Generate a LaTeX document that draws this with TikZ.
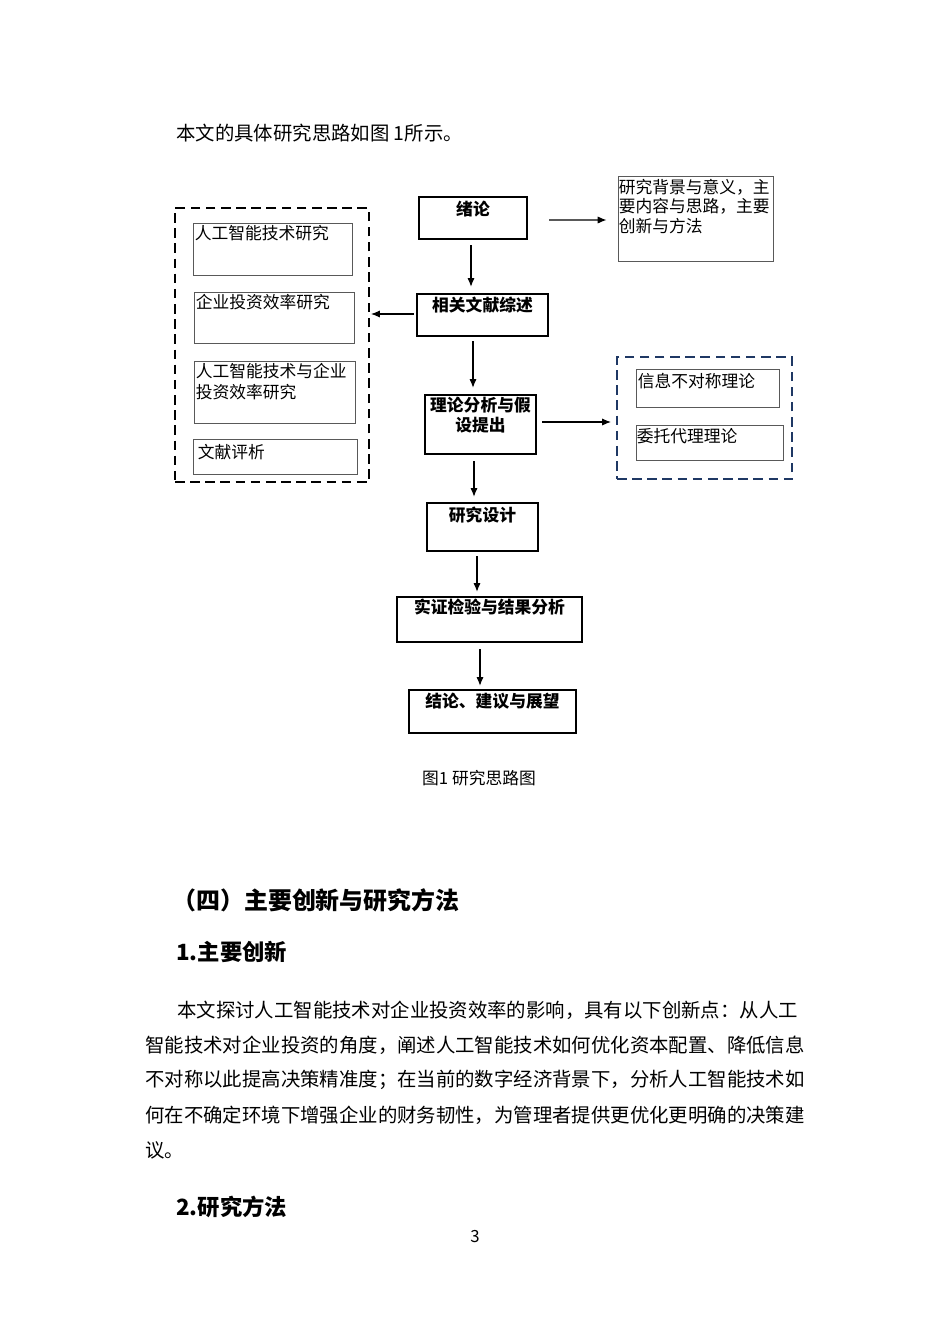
\documentclass[tikz,border=0pt]{standalone}
\usepackage{fontspec}
\setmainfont{Noto Sans CJK SC}
\usepackage{xcolor}
\usepackage{tikz}
\usetikzlibrary{shapes, arrows, arrows.meta, positioning, calc}
\definecolor{navy}{RGB}{31,56,100}
\newdimen\pxunit \pxunit=0.6266pt
\tikzstyle{flow} = [rectangle, draw, line width=1.5pt]
\tikzstyle{flowtext} = [font=\bfseries\fontsize{10.5}{12.5}\selectfont, align=center, inner sep=0pt]
\tikzstyle{sub} = [rectangle, draw=black!65, line width=0.6pt]
\tikzstyle{subtext} = [font=\fontsize{10.5}{13.2}\selectfont, align=left, inner sep=0pt]
\tikzstyle{frame} = [rectangle, draw, line width=1.3pt, dash pattern=on 6pt off 3.5pt]
\tikzstyle{arrow} = [draw, -{Latex[length=5.5pt, width=4.5pt]}, line width=0.7pt]
\tikzstyle{body} = [font=\fontsize{12.15}{14}\selectfont, inner sep=0pt, anchor=west]
\tikzstyle{head} = [font=\bfseries\fontsize{15}{18}\selectfont, inner sep=0pt, anchor=west]
\tikzstyle{subhead} = [font=\bfseries\fontsize{14}{17}\selectfont, inner sep=0pt, anchor=west]

\begin{document}
\begin{tikzpicture}[x=\pxunit, y=-\pxunit]
    \useasboundingbox (0,0) rectangle (950,1344);
    \fill [white] (0,0) rectangle (950,1344);

    \node (lead) [body] at (176,133) {本文的具体研究思路如图 1所示。};

    % main flow
    \node (intro) [flow, minimum width=108\pxunit, minimum height=42\pxunit] at (473,218) {};
    \node (review) [flow, minimum width=131\pxunit, minimum height=42\pxunit] at (482.5,315) {};
    \node (theory) [flow, minimum width=111\pxunit, minimum height=59\pxunit] at (480.5,424.5) {};
    \node (design) [flow, minimum width=111\pxunit, minimum height=48\pxunit] at (482.5,527) {};
    \node (test) [flow, minimum width=185\pxunit, minimum height=45\pxunit] at (489.5,619.5) {};
    \node (concl) [flow, minimum width=167\pxunit, minimum height=43\pxunit] at (492.5,711.5) {};

    \node (introtext) [flowtext, below=5\pxunit of intro.north] {绪论};
    \node (reviewtext) [flowtext, below=4\pxunit of review.north] {相关文献综述};
    \node (theorytext) [flowtext, below=3\pxunit of theory.north] {理论分析与假\\设提出};
    \node (designtext) [flowtext, below=5\pxunit of design.north] {研究设计};
    \node (testtext) [flowtext, below=3\pxunit of test.north] {实证检验与结果分析};
    \node (concltext) [flowtext, below=4\pxunit of concl.north] {结论、建议与展望};

    % side boxes
    \node (bground) [sub, minimum width=155\pxunit, minimum height=85\pxunit] at (695.5,218.5) {};
    \node (bgroundtext) [subtext, font=\fontsize{10.5}{12.3}\selectfont, below right=3\pxunit and 1\pxunit of bground.north west] {研究背景与意义，主\\要内容与思路，主要\\创新与方法};

    \node (lframe) [frame, minimum width=194\pxunit, minimum height=274\pxunit] at (272,345) {};
    \node (ai) [sub, minimum width=159\pxunit, minimum height=52\pxunit] at (272.5,249) {};
    \node (inv) [sub, minimum width=160\pxunit, minimum height=51\pxunit] at (274,317.5) {};
    \node (aiinv) [sub, minimum width=161\pxunit, minimum height=62\pxunit] at (274.5,392) {};
    \node (comment) [sub, minimum width=164\pxunit, minimum height=35\pxunit] at (275,456.5) {};
    \node (aitext) [subtext, below right=2\pxunit and 2\pxunit of ai.north west] {人工智能技术研究};
    \node (invtext) [subtext, below right=2\pxunit and 2\pxunit of inv.north west] {企业投资效率研究};
    \node (aiinvtext) [subtext, below right=2\pxunit and 2\pxunit of aiinv.north west] {人工智能技术与企业\\投资效率研究};
    \node (commenttext) [subtext, below right=5\pxunit and 5\pxunit of comment.north west] {文献评析};

    \node (rframe) [frame, draw=navy, minimum width=175\pxunit, minimum height=122\pxunit] at (704.5,418) {};
    \node (asym) [sub, minimum width=143\pxunit, minimum height=38\pxunit] at (707.5,388) {};
    \node (agency) [sub, minimum width=147\pxunit, minimum height=35\pxunit] at (709.5,442.5) {};
    \node (asymtext) [subtext, below right=4\pxunit and 2\pxunit of asym.north west] {信息不对称理论};
    \node (agencytext) [subtext, below right=4\pxunit and 1\pxunit of agency.north west] {委托代理理论};

    % connectors
    \draw [arrow, shorten <=5\pxunit, shorten >=6\pxunit] ([xshift=-2\pxunit]intro.south) -- ([xshift=-11.5\pxunit]review.north);
    \draw [arrow, shorten <=4\pxunit, shorten >=6\pxunit] ([xshift=-9.5\pxunit]review.south) -- ([xshift=-7.5\pxunit]theory.north);
    \draw [arrow, shorten <=6\pxunit, shorten >=5\pxunit] ([xshift=-6.5\pxunit]theory.south) -- ([xshift=-8.5\pxunit]design.north);
    \draw [arrow, shorten <=4\pxunit, shorten >=4\pxunit] ([xshift=-5.5\pxunit]design.south) -- ([xshift=-12.5\pxunit]test.north);
    \draw [arrow, shorten <=6\pxunit, shorten >=3\pxunit] ([xshift=-9.5\pxunit]test.south) -- ([xshift=-12.5\pxunit]concl.north);
    \draw [arrow, shorten <=21\pxunit, shorten >=11\pxunit] ([yshift=-2\pxunit]intro.east) -- ([yshift=-1.5\pxunit]bground.west);
    \draw [arrow, shorten <=2\pxunit, shorten >=1\pxunit] ([yshift=1\pxunit]review.west) -- ([yshift=31\pxunit]lframe.east);
    \draw [arrow, shorten <=5\pxunit, shorten >=5\pxunit] ([yshift=2.5\pxunit]theory.east) -- ([yshift=-4\pxunit]rframe.west);

    \node (caption) [font=\fontsize{10.5}{12}\selectfont, inner sep=0pt] at (479,778) {图1 研究思路图};

    % text below the figure
    \node (sec) [head] at (172,900) {（四）主要创新与研究方法};
    \node (subone) [subhead] at (176,952) {1.主要创新};
    \node (line1) [body] at (177,1010) {本文探讨人工智能技术对企业投资效率的影响，具有以下创新点：从人工};
    \node (line2) [body] at (145,1045) {智能技术对企业投资的角度，阐述人工智能技术如何优化资本配置、降低信息};
    \node (line3) [body] at (145,1080) {不对称以此提高决策精准度；在当前的数字经济背景下，分析人工智能技术如};
    \node (line4) [body] at (145,1115) {何在不确定环境下增强企业的财务韧性，为管理者提供更优化更明确的决策建};
    \node (line5) [body] at (145,1150) {议。};
    \node (subtwo) [subhead] at (176,1207) {2.研究方法};
    \node (page) [font=\fontsize{10.5}{12}\selectfont, inner sep=0pt] at (475,1237) {3};
\end{tikzpicture}
\end{document}
